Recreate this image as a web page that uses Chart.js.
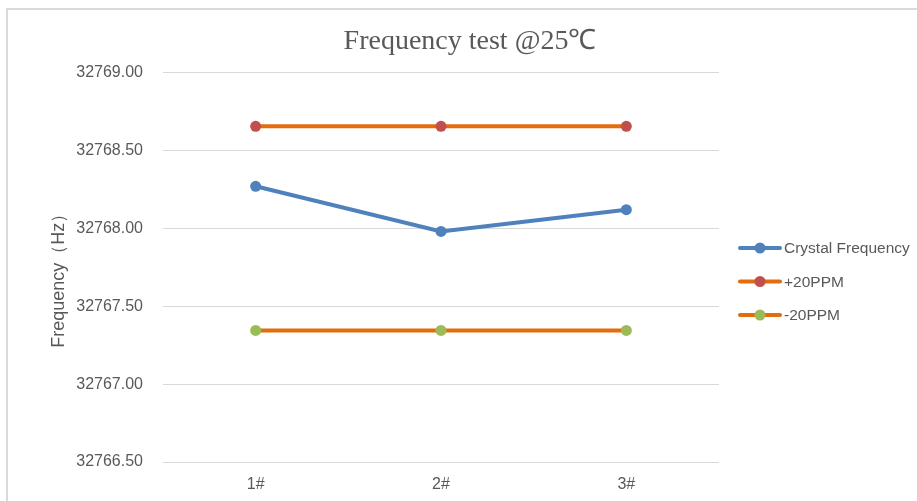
<!DOCTYPE html>
<html>
<head>
<meta charset="utf-8">
<script src="https://cdn.jsdelivr.net/npm/chart.js@4"></script>
<style>
    html, body { margin: 0; padding: 0; background: #fff; }
    #wrap { width: 917px; height: 501px; }
</style>
</head>
<body>
<div id="wrap"><canvas id="chart" width="917" height="501"></canvas></div>
<script>
const categories = ["1#", "2#", "3#"];
const crystalFrequency = [32768.27, 32767.98, 32768.12];
const plus20ppm = [32768.655, 32768.655, 32768.655];
const minus20ppm = [32767.345, 32767.345, 32767.345];
const yTicks = [32766.5, 32767.0, 32767.5, 32768.0, 32768.5, 32769.0];

const TEXT = "#595959";
const GRID = "#d9d9d9";

// light frame round the whole chart, like the office export
const framePlugin = {
    id: "frame",
    beforeDraw(chart) {
        const ctx = chart.ctx;
        ctx.save();
        ctx.fillStyle = "#fff";
        ctx.fillRect(0, 0, chart.width, chart.height);
        ctx.strokeStyle = "#d9d9d9";
        ctx.lineWidth = 2;
        ctx.strokeRect(7, 9, chart.width + 10, chart.height + 10);
        ctx.restore();
    }
};

// legend on the right: line with a marker, then the label
const sideLegend = {
    id: "sideLegend",
    afterDraw(chart) {
        const ctx = chart.ctx;
        const area = chart.chartArea;
        const x0 = area.right + 21;
        const y0 = 248;
        const rowGap = 33.5;

        ctx.save();
        chart.data.datasets.forEach((ds, i) => {
            const y = y0 + i * rowGap;
            ctx.strokeStyle = ds.borderColor;
            ctx.lineWidth = ds.borderWidth;
            ctx.lineCap = "round";
            ctx.beginPath();
            ctx.moveTo(x0, y);
            ctx.lineTo(x0 + 40, y);
            ctx.stroke();

            ctx.fillStyle = ds.pointBackgroundColor;
            ctx.beginPath();
            ctx.arc(x0 + 20, y, ds.pointRadius, 0, Math.PI * 2);
            ctx.fill();

            ctx.fillStyle = TEXT;
            ctx.font = "15.5px 'Liberation Sans', Arial, sans-serif";
            ctx.textBaseline = "middle";
            ctx.textAlign = "left";
            ctx.fillText(ds.label, x0 + 44, y + 1);
        });
        ctx.restore();
    }
};

function makeSeries(label, data, lineColor, markerColor) {
    return {
        label,
        data,
        borderColor: lineColor,
        borderWidth: 4,
        pointRadius: 5.5,
        pointHoverRadius: 5.5,
        pointBackgroundColor: markerColor,
        pointBorderColor: markerColor,
        pointBorderWidth: 0,
        tension: 0,
        fill: false
    };
}

new Chart(document.getElementById("chart").getContext("2d"), {
    type: "line",
    data: {
        labels: categories,
        datasets: [
            makeSeries("Crystal Frequency", crystalFrequency, "#4f81bd", "#4f81bd"),
            makeSeries("+20PPM", plus20ppm, "#e46c0a", "#c0504d"),
            makeSeries("-20PPM", minus20ppm, "#e46c0a", "#9bbb59")
        ]
    },
    options: {
        responsive: false,
        animation: false,
        devicePixelRatio: 1,
        layout: {
            padding: { left: 48, right: 25, top: 0, bottom: 0 }
        },
        plugins: {
            legend: { display: false },
            tooltip: { enabled: false },
            title: {
                display: true,
                text: "Frequency test @25℃",
                color: TEXT,
                font: { family: "'Liberation Serif', 'Times New Roman', serif", size: 28, weight: "normal" },
                padding: { top: 25, bottom: 14 }
            }
        },
        scales: {
            x: {
                type: "category",
                offset: true,
                grid: { display: false, drawTicks: false },
                border: { display: false },
                afterFit: (scale) => {
                    scale.height = 39;
                },
                ticks: {
                    color: TEXT,
                    padding: 13,
                    font: { family: "'Liberation Sans', Arial, sans-serif", size: 16 }
                }
            },
            y: {
                min: yTicks[0],
                max: yTicks[yTicks.length - 1],
                afterBuildTicks: (scale) => {
                    scale.ticks = yTicks.map((v) => ({ value: v }));
                },
                afterFit: (scale) => {
                    scale.width = 115;
                },
                grid: { color: GRID, lineWidth: 1, drawTicks: false },
                border: { display: false },
                ticks: {
                    color: TEXT,
                    padding: 20,
                    font: { family: "'Liberation Sans', Arial, sans-serif", size: 16 },
                    callback: (value) => Number(value).toFixed(2)
                },
                title: {
                    display: true,
                    text: "Frequency（Hz）\u2003",
                    color: TEXT,
                    padding: { top: 0, bottom: 0 },
                    font: { family: "'Liberation Sans', Arial, sans-serif", size: 18 }
                }
            },
            // empty right-hand axis that only keeps room for the legend
            side: {
                position: "right",
                display: true,
                grid: { display: false, drawTicks: false },
                border: { display: false },
                ticks: { display: false },
                afterFit: (scale) => {
                    scale.width = 173;
                }
            }
        }
    },
    plugins: [framePlugin, sideLegend]
});
</script>
</body>
</html>
